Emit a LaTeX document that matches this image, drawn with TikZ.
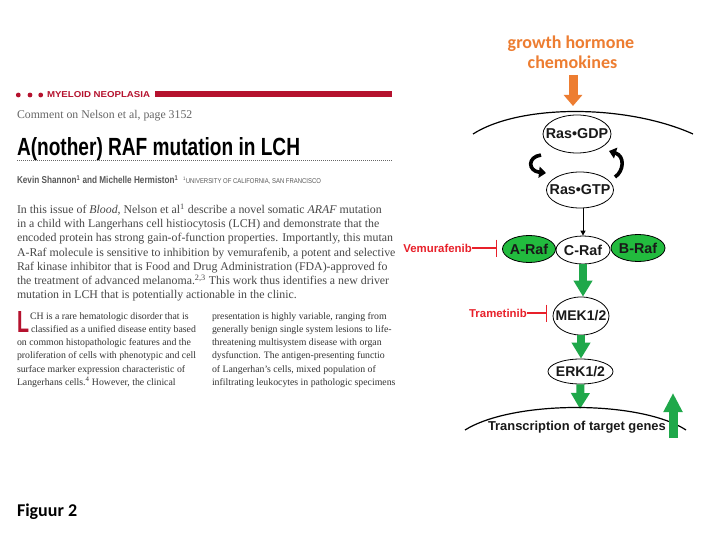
\documentclass[tikz,border=0pt]{standalone}
\usepackage{fontspec}
\setmainfont{Liberation Serif}
\newfontfamily\arial{Liberation Sans}
\newfontfamily\carlito{Carlito}
\usetikzlibrary{arrows.meta,shapes.geometric}
\definecolor{jred}{HTML}{B5122E}
\definecolor{orng}{HTML}{ED7D31}
\definecolor{grn}{HTML}{1FA84A}
\definecolor{fgrn}{HTML}{22BB3E}
\definecolor{ired}{HTML}{E8202A}
\begin{document}
\begin{tikzpicture}[x=1pt,y=-1pt,
  txt/.style={anchor=base west, inner sep=0, outer sep=0},
  abst/.style={txt, font=\fontsize{11.85}{14}\selectfont, text=black!72},
  bodyt/.style={txt, font=\fontsize{9.8}{12}\selectfont, text=black!80},
  ell/.style={ellipse, draw=black, line width=0.8pt, fill=white, inner sep=0},
  gell/.style={ell, fill=fgrn},
  lab/.style={font=\arial\bfseries\fontsize{14.3}{15}\selectfont, inner sep=0, text=black!90},
  garrow/.style={draw=grn, line width=8pt, -{Triangle[width=18pt,length=16pt]}},
  inhib/.style={draw=ired, line width=1.3pt, -{Bar[width=17pt]}},
  drug/.style={anchor=east, inner sep=0, text=ired, font=\arial\bfseries\fontsize{11.4}{12}\selectfont}
]
\useasboundingbox (0,0) rectangle (720,540);
\fill[white] (0,0) rectangle (720,540);

% ---------- article header ----------
\fill[jred] (18.3,95) circle (2.4);
\fill[jred] (30,95) circle (2.4);
\fill[jred] (40.7,95) circle (2.4);
\node[txt, text=jred] (myel) at (47,97.3) {\resizebox{103pt}{6pt}{\arial\bfseries MYELOID NEOPLASIA}};
\fill[jred] (155,91) rectangle (392,97.3);
\node[txt, text=black!60, font=\fontsize{11.8}{14}\selectfont] (cmt) at (17,119) {Comment on Nelson et al, page 3152};
\node[txt] (ttl) at (17,156) {\resizebox{283pt}{18pt}{\arial\bfseries A(nother) RAF mutation in LCH}};
\draw[black!60, line width=0.8pt, dash pattern=on 0.8pt off 1.2pt] (17,160.7) -- (392,160.7);
\node[txt, text=black!65] (auth) at (17,184) {\scalebox{0.82}[1]{\arial\bfseries\fontsize{10}{12}\selectfont Kevin Shannon\textsuperscript{1} and Michelle Hermiston\textsuperscript{1}}};
\node[txt, text=black!65] (affil) at (183,184) {\scalebox{0.85}[1]{\arial\fontsize{7}{8}\selectfont \textsuperscript{1}UNIVERSITY OF CALIFORNIA, SAN FRANCISCO}};

% ---------- abstract ----------
\node[abst] (a1) at (17,213.5) {In this issue of \textit{Blood}, Nelson et al\textsuperscript{1} describe a novel somatic \textit{ARAF} mutation};
\node[abst] (a2) at (17,227.7) {in a child with Langerhans cell histiocytosis (LCH) and demonstrate that the};
\node[abst] (a3) at (17,241.9) {encoded protein has strong gain-of-function properties. Importantly, this mutan};
\node[abst] (a4) at (17,256.1) {A-Raf molecule is sensitive to inhibition by vemurafenib, a potent and selective};
\node[abst] (a5) at (17,270.3) {Raf kinase inhibitor that is Food and Drug Administration (FDA)-approved fo};
\node[abst] (a6) at (17,284.5) {the treatment of advanced melanoma.\textsuperscript{2,3} This work thus identifies a new driver};
\node[abst] (a7) at (17,298.7) {mutation in LCH that is potentially actionable in the clinic.};

% ---------- body columns ----------
\node[anchor=south west, inner sep=0, text=jred] (dropL) at (17,333) {\resizebox{12pt}{21pt}{\arial\bfseries L}};
\node[bodyt] (b1) at (30,319) {CH is a rare hematologic disorder that is};
\node[bodyt] (b2) at (31,332.3) {classified as a unified disease entity based};
\node[bodyt] (b3) at (17,345.6) {on common histopathologic features and the};
\node[bodyt] (b4) at (17,358.9) {proliferation of cells with phenotypic and cell};
\node[bodyt] (b5) at (17,372.2) {surface marker expression characteristic of};
\node[bodyt] (b6) at (17,385.5) {Langerhans cells.\textsuperscript{4} However, the clinical};
\node[bodyt] (c1) at (212,319) {presentation is highly variable, ranging from};
\node[bodyt] (c2) at (212,332.3) {generally benign single system lesions to life-};
\node[bodyt] (c3) at (212,345.6) {threatening multisystem disease with organ};
\node[bodyt] (c4) at (212,358.9) {dysfunction. The antigen-presenting functio};
\node[bodyt] (c5) at (212,372.2) {of Langerhan’s cells, mixed population of};
\node[bodyt] (c6) at (212,385.5) {infiltrating leukocytes in pathologic specimens};

\node[txt, font=\carlito\bfseries\fontsize{18}{20}\selectfont] (fig) at (17,516) {Figuur 2};

% ---------- pathway ----------
\node[anchor=base, inner sep=0, text=orng, font=\carlito\bfseries\fontsize{18}{20}\selectfont] (gh) at (571,48.3) {growth hormone};
\node[anchor=base, inner sep=0, text=orng, font=\carlito\bfseries\fontsize{18}{20}\selectfont] (chk) at (572.5,68.3) {chemokines};
\coordinate (oStart) at (573,75);
\coordinate (oEnd) at (573,106);
\draw[draw=orng, line width=9pt, -{Triangle[width=18pt,length=11pt]}] (oStart) -- (oEnd);

% membrane
\draw[line width=1.2pt] (473,134) .. controls (520,104) and (626,104) .. (693,134);

\node[ell, minimum width=68pt, minimum height=38pt] (gdp) at (577,134) {};
\node[lab] (gdpt) at (gdp) {Ras•GDP};
\node[ell, minimum width=67pt, minimum height=36pt] (gtp) at (580,190) {};
\node[lab] (gtpt) at (gtp) {Ras•GTP};

\coordinate (lcA) at (541,155);
\coordinate (lcB) at (546,173);
\coordinate (rcA) at (615,177);
\coordinate (rcB) at (609,151);
\draw[line width=3.6pt, -{Triangle[length=7pt,width=11pt]}] (lcA) .. controls (527,157) and (528,171) .. (lcB);
\draw[line width=3.6pt, -{Triangle[length=7pt,width=11pt]}] (rcA) .. controls (624,171) and (625,156) .. (rcB);

\node[gell, minimum width=53pt, minimum height=27pt] (araf) at (529,249) {};
\node[lab] (araft) at (araf) {A-Raf};
\node[gell, minimum width=54pt, minimum height=27pt] (braf) at (638,248) {};
\node[lab] (braft) at (braf) {B-Raf};
\node[ell, minimum width=54pt, minimum height=28pt] (craf) at (583,250) {};
\node[lab] (craft) at (craf) {C-Raf};

\draw[line width=1pt, -{Triangle[length=5pt,width=5pt]}] (gtp.south -| craf.north) -- (craf.north);

\node[ell, minimum width=56pt, minimum height=38pt] (mek) at (581,316) {};
\node[lab, font=\arial\bfseries\fontsize{14}{15}\selectfont] (mekt) at (mek) {MEK1/2};
\node[ell, minimum width=65pt, minimum height=25pt] (erk) at (580.5,371.5) {};
\node[lab, font=\arial\bfseries\fontsize{14}{15}\selectfont] (erkt) at (erk) {ERK1/2};

\draw[garrow] (craf.south) -- (craf.south |- mek.north);
\draw[garrow] (mek.south) -- (mek.south |- erk.north);
\coordinate (nucTop) at (580,409);
\draw[garrow] (erk.south) -- (nucTop);

% nucleus
\draw[line width=1.2pt] (465,430) .. controls (513,400) and (640,400) .. (686,430);
\node[txt, text=black!90, font=\arial\bfseries\fontsize{12.9}{14}\selectfont] (trans) at (488,430) {Transcription of target genes};

\coordinate (upS) at (673,438);
\coordinate (upE) at (673,393);
\draw[draw=grn, line width=9pt, -{Triangle[width=18pt,length=19pt]}] (upS) -- (upE);

% inhibitors
\node[drug] (vem) at (472,248) {Vemurafenib};
\coordinate (vemBar) at (497,248);
\draw[inhib] (vem.east) -- (vemBar);
\node[drug] (tram) at (527,313) {Trametinib};
\coordinate (tramBar) at (547,313);
\draw[inhib] (tram.east) -- (tramBar);
\end{tikzpicture}
\end{document}
